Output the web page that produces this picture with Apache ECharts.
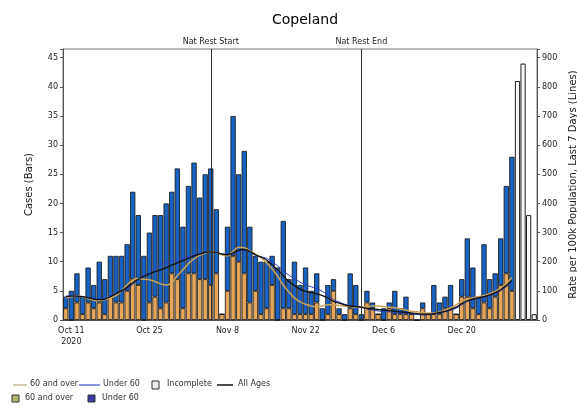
<!DOCTYPE html>
<html><head><meta charset="utf-8">
<script src="https://cdn.jsdelivr.net/npm/echarts@6/dist/echarts.min.js"></script>
<style>html,body{margin:0;padding:0;background:#fff}#c{width:577px;height:410px}</style>
</head><body><div id="c"></div>
<script>
var categories = ['Oct 10','Oct 11','Oct 12','Oct 13','Oct 14','Oct 15','Oct 16','Oct 17','Oct 18','Oct 19','Oct 20','Oct 21','Oct 22','Oct 23','Oct 24','Oct 25','Oct 26','Oct 27','Oct 28','Oct 29','Oct 30','Oct 31',
'Nov 1','Nov 2','Nov 3','Nov 4','Nov 5','Nov 6','Nov 7','Nov 8','Nov 9','Nov 10','Nov 11','Nov 12','Nov 13','Nov 14','Nov 15','Nov 16','Nov 17','Nov 18','Nov 19','Nov 20','Nov 21','Nov 22','Nov 23','Nov 24','Nov 25','Nov 26','Nov 27','Nov 28','Nov 29','Nov 30',
'Dec 1','Dec 2','Dec 3','Dec 4','Dec 5','Dec 6','Dec 7','Dec 8','Dec 9','Dec 10','Dec 11','Dec 12','Dec 13','Dec 14','Dec 15','Dec 16','Dec 17','Dec 18','Dec 19','Dec 20','Dec 21','Dec 22','Dec 23','Dec 24','Dec 25','Dec 26','Dec 27','Dec 28','Dec 29','Dec 30','Dec 31','Jan 1','Jan 2'];

var tickCategories = ['Oct 11','Oct 25','Nov 8','Nov 22','Dec 6','Dec 20'];
var tickLabels = ['Oct 11\n2020','Oct 25','Nov 8','Nov 22','Dec 6','Dec 20'];

var over60Cases = [2,0,3,1,3,2,3,1,4,3,3,5,7,6,0,3,4,2,3,8,7,2,8,8,7,7,6,8,1,5,11,10,8,3,5,1,2,6,0,2,2,1,1,1,1,3,0,1,5,1,0,2,1,0,3,2,1,0,2,1,1,1,1,0,2,1,1,1,2,2,1,4,4,2,1,3,2,4,6,8,5,null,null,null,null];
var under60Cases = [2,5,5,3,6,4,7,6,7,8,8,8,15,12,11,12,14,16,17,14,19,14,15,19,14,18,20,11,0,11,24,15,21,13,6,9,8,5,9,15,5,9,5,8,4,5,2,5,2,1,1,6,5,1,2,1,0,2,1,4,1,3,0,0,1,0,5,2,2,4,0,3,10,7,3,10,5,4,8,15,23,null,null,null,null];
var incompleteCases = [null,null,null,null,null,null,null,null,null,null,null,null,null,null,null,null,null,null,null,null,null,null,null,null,null,null,null,null,null,null,null,null,null,null,null,null,null,null,null,null,null,null,null,null,null,null,null,null,null,null,null,null,null,null,null,null,null,null,null,null,null,null,null,null,null,null,null,null,null,null,null,null,null,null,null,null,null,null,null,null,null,41,44,18,1];

var over60Rate = [76,80,82,80,74,68,66,70,76,84,100,120,138,142,140,138,132,124,120,128,152,172,194,210,222,230,234,232,224,220,236,250,248,238,226,214,196,176,150,120,96,76,62,54,48,46,48,52,52,50,48,46,44,44,46,48,48,46,44,42,38,34,30,28,26,24,24,28,34,42,52,64,72,76,80,84,90,98,110,126,146];
var under60Rate = [82,83,82,80,77,74,72,73,82,93,100,108,122,138,154,166,178,188,196,202,206,212,218,224,228,233,234,232,227,226,226,234,238,234,222,217,212,200,186,170,154,142,130,120,114,108,98,86,70,62,54,50,47,44,38,34,31,29,28,26,24,23,21,19,17,18,21,25,28,33,40,52,63,70,74,78,84,92,101,114,130];
var allAgesRate = [80,82,82,80,76,72,70,72,80,90,100,112,128,140,150,158,166,172,180,188,196,204,212,220,226,232,234,232,226,224,230,240,242,236,224,216,206,190,172,152,132,118,106,98,94,90,84,76,64,58,52,48,46,44,40,38,36,34,32,30,28,26,24,22,20,20,22,26,30,36,44,56,66,72,76,80,86,94,104,118,136];

var leftTicks = [0,5,10,15,20,25,30,35,40,45];
var rightTicks = [0,100,200,300,400,500,600,700,800,900];

var FONT = 'DejaVu Sans';
var chart = echarts.init(document.getElementById('c'), null, {renderer:'canvas'});
var barEdge = {borderColor:'#111', borderWidth:0.8};
var lblStyle = {fontFamily:FONT, fontSize:8, color:'#222'};

var legendY1 = 385, legendY2 = 399;
function ltext(x,y,t){return {type:'text', left:x, top:y-5, style:{text:t, fontFamily:FONT, fontSize:8, fill:'#333'}};}

chart.setOption({
  animation:false,
  title:{text:'Copeland', left:300, top:8, textAlign:'center', textStyle:{fontFamily:FONT, fontSize:14, fontWeight:'normal', color:'#000'}},
  grid:{left:63, right:40, top:49, bottom:90, show:true, borderColor:'#777', borderWidth:1, containLabel:false, outerBoundsMode:'none'},
  xAxis:{type:'category', data:categories, boundaryGap:true,
    axisLine:{lineStyle:{color:'#555'}},
    axisTick:{alignWithLabel:true, length:3, lineStyle:{color:'#555'}, interval:function(i,v){return tickCategories.indexOf(v)>=0;}},
    axisLabel:Object.assign({interval:function(i,v){return tickCategories.indexOf(v)>=0;}, margin:5, lineHeight:11,
      formatter:function(v){var k=tickCategories.indexOf(v);return k>=0?tickLabels[k]:'';}}, lblStyle)},
  yAxis:[
    {type:'value', min:0, max:46.5, interval:5, name:'Cases (Bars)', nameLocation:'middle', nameGap:29,
     nameTextStyle:{fontFamily:FONT, fontSize:10, color:'#222'},
     axisLine:{show:true, lineStyle:{color:'#555'}}, axisTick:{show:true, length:3, lineStyle:{color:'#555'}},
     splitLine:{show:false},
     axisLabel:Object.assign({margin:5, formatter:function(v){return leftTicks.indexOf(v)>=0?String(v):'';}}, lblStyle)},
    {type:'value', min:0, max:930, interval:100, position:'right', name:'Rate per 100k Population, Last 7 Days (Lines)', nameLocation:'middle', nameGap:27,
     nameRotate:90,
     nameTextStyle:{fontFamily:FONT, fontSize:10, color:'#222'},
     axisLine:{show:true, lineStyle:{color:'#555'}}, axisTick:{show:true, length:3, lineStyle:{color:'#555'}},
     splitLine:{show:false},
     axisLabel:Object.assign({margin:5, formatter:function(v){return rightTicks.indexOf(v)>=0?String(v):'';}}, lblStyle)}
  ],
  series:[
    {name:'60 and over', type:'bar', stack:'a', data:over60Cases, barCategoryGap:'6%', itemStyle:Object.assign({color:'#e6a75a'}, barEdge)},
    {name:'Under 60', type:'bar', stack:'a', data:under60Cases, itemStyle:Object.assign({color:'#1862c4'}, barEdge),
     markLine:{symbol:['none','none'], silent:true, animation:false,
       lineStyle:{color:'#333', width:1, type:'solid'},
       label:{position:'end', distance:3, fontFamily:FONT, fontSize:8, color:'#222', formatter:'{b}'},
       data:[{name:'Nat Rest Start', xAxis:'Nov 5'},{name:'Nat Rest End', xAxis:'Dec 2'}]}},
    {name:'Incomplete', type:'bar', stack:'a', data:incompleteCases, itemStyle:{color:'#f6f6f6', borderColor:'#222', borderWidth:1}},
    {name:'Under 60 rate', type:'line', yAxisIndex:1, data:under60Rate, smooth:0.3, symbol:'none', lineStyle:{color:'#2a3fbf', width:1}},
    {name:'60 and over rate', type:'line', yAxisIndex:1, data:over60Rate, smooth:0.3, symbol:'none', lineStyle:{color:'#c9a25a', width:1.5}},
    {name:'All Ages', type:'line', yAxisIndex:1, data:allAgesRate, smooth:0.3, symbol:'none', lineStyle:{color:'#111', width:1.3}}
  ],
  graphic:[
    {type:'line', shape:{x1:13,y1:legendY1,x2:27,y2:legendY1}, style:{stroke:'#b9a77a', lineWidth:1.2}},
    ltext(30,legendY1,'60 and over'),
    {type:'line', shape:{x1:79,y1:legendY1,x2:100,y2:legendY1}, style:{stroke:'#3b4fd0', lineWidth:1.2}},
    ltext(103,legendY1,'Under 60'),
    {type:'rect', shape:{x:152,y:legendY1-4,width:7,height:8}, style:{fill:'#eeeeee', stroke:'#333', lineWidth:1}},
    ltext(167,legendY1,'Incomplete'),
    {type:'line', shape:{x1:217,y1:legendY1,x2:233,y2:legendY1}, style:{stroke:'#111', lineWidth:1.5}},
    ltext(238,legendY1,'All Ages'),
    {type:'rect', shape:{x:12,y:legendY2-4,width:7,height:7}, style:{fill:'#b3b46c', stroke:'#333', lineWidth:1}},
    ltext(25,legendY2,'60 and over'),
    {type:'rect', shape:{x:88,y:legendY2-4,width:7,height:7}, style:{fill:'#3a3aa6', stroke:'#333', lineWidth:1}},
    ltext(102,legendY2,'Under 60')
  ]
});
</script></body></html>
